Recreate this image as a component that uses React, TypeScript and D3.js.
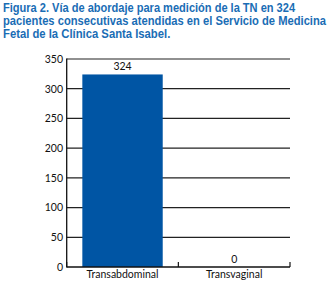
import React, { useLayoutEffect, useRef, useState } from "react";
import * as d3 from "d3";

const categories = ["Transabdominal", "Transvaginal"];
const values = [324, 0];
const yTicks = [0, 50, 100, 150, 200, 250, 300, 350];
const titleLines = [
  "Figura 2. Vía de abordaje para medición de la TN en 324",
  "pacientes consecutivas atendidas en el Servicio de Medicina",
  "Fetal de la Clínica Santa Isabel.",
];
const titleWidths = [292.5, 323.5, 167.5];

const W = 333;
const H = 284;
const left = 66.7;
const right = 290;
const top = 59;
const bottom = 267;

function TitleLine({ text, width, y, color }: { text: string; width: number; y: number; color: string }) {
  const ref = useRef<SVGTextElement>(null);
  const [sx, setSx] = useState(0.85);
  useLayoutEffect(() => {
    if (ref.current) {
      const natural = ref.current.getComputedTextLength();
      if (natural > 0) setSx(width / natural);
    }
  }, [text, width]);
  return (
    <g transform={`translate(3,${y}) scale(${sx},1)`}>
      <text
        ref={ref}
        x={0}
        y={0}
        fill={color}
        fontWeight="bold"
        fontSize={13.2}
        fontFamily="'Liberation Sans', Arial, sans-serif"
      >
        {text}
      </text>
    </g>
  );
}

export default function App() {
  const x = d3.scaleBand<string>().domain(categories).range([left, right]).padding(0);
  const y = d3.scaleLinear().domain([0, 350]).range([bottom, top]);
  const barW = x.bandwidth() * 0.72;
  const blue = "#0055a4";
  const titleColor = "#1a6db5";
  const font = "Lato, 'Open Sans', sans-serif";

  return (
    <svg
      width={W}
      height={H}
      style={{ position: "absolute", left: 0, top: 0, background: "#fff" }}
    >
      {titleLines.map((t, i) => (
        <TitleLine key={i} text={t} width={titleWidths[i]} y={12.4 + i * 12.6} color={titleColor} />
      ))}

      {yTicks.filter((t) => t > 0).map((t) => (
        <line
          key={t}
          x1={left}
          x2={right}
          y1={y(t)}
          y2={y(t)}
          stroke="#222"
          strokeWidth={1.2}
        />
      ))}

      {categories.map((c, i) => {
        const cx = (x(c) as number) + x.bandwidth() / 2;
        return (
          <g key={c}>
            {values[i] > 0 && (
              <rect
                x={cx - barW / 2}
                y={y(values[i])}
                width={barW}
                height={bottom - y(values[i])}
                fill={blue}
              />
            )}
            <text
              x={cx}
              y={y(values[i]) - 4.5}
              textAnchor="middle"
              fontSize={10.5}
              fontFamily={font}
              fill="#111"
            >
              {values[i]}
            </text>
            <text
              x={cx}
              y={277.5}
              textAnchor="middle"
              fontSize={10.5}
              fontFamily={font}
              fill="#111"
            >
              {c}
            </text>
          </g>
        );
      })}

      <line x1={left} x2={left} y1={top - 0.6} y2={bottom + 0.6} stroke="#111" strokeWidth={1.3} />
      <line x1={left} x2={right} y1={bottom} y2={bottom} stroke="#111" strokeWidth={1.3} />
      {[...categories.map((c) => x(c) as number), right].map((px, i) => (
        <line key={i} x1={px} x2={px} y1={bottom} y2={bottom - 5} stroke="#111" strokeWidth={1.2} />
      ))}

      {yTicks.map((t) => (
        <text
          key={t}
          x={63}
          y={y(t) + 3.8}
          textAnchor="end"
          fontSize={10.5}
          fontFamily={font}
          fill="#111"
        >
          {t}
        </text>
      ))}
    </svg>
  );
}
